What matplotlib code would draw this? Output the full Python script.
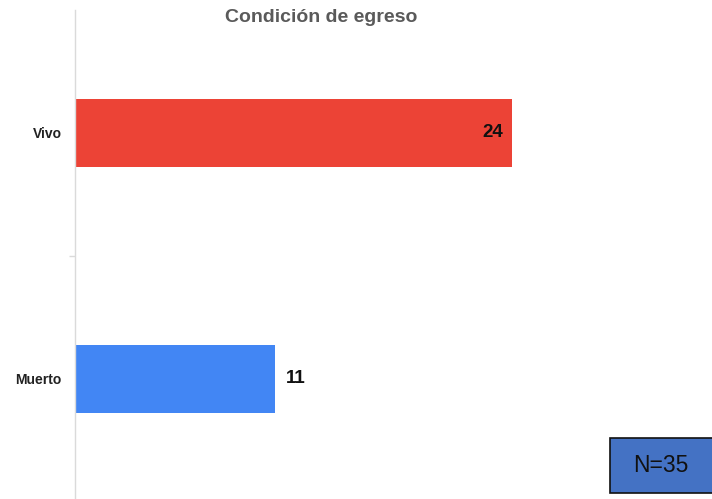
import matplotlib
matplotlib.use("Agg")
import matplotlib.pyplot as plt
from matplotlib.patches import Rectangle

categories = ["Vivo", "Muerto"]
values = [24, 11]
colors = ["#EC4336", "#4286F4"]
total_label = "N=35"
title = "Condición de egreso"

W, H = 712, 499
fig = plt.figure(figsize=(W / 100, H / 100), dpi=100)
# axes: left spine at x=75px, top at y=10px, bottom slightly below the canvas
ax = fig.add_axes([75 / W, 1 - 502 / H, (W - 75) / W, 492 / H])

ypos = list(range(len(categories)))
ax.barh(ypos, values, height=0.276, color=colors, edgecolor="none")
ax.set_xlim(0, (W - 75) / 18.22)
ax.set_ylim(len(categories) - 0.5, -0.5)

for sp in ["top", "right", "bottom"]:
    ax.spines[sp].set_visible(False)
ax.spines["left"].set_color("#dadada")
ax.spines["left"].set_linewidth(1.0)

ax.set_xticks([])
ax.set_yticks(ypos)
ax.set_yticklabels(categories, fontsize=10, fontweight="bold", color="#222222",
                   family="Liberation Sans")
ax.tick_params(axis="y", which="major", length=0, pad=9.5)
ax.set_yticks([0.5], minor=True)
ax.tick_params(axis="y", which="minor", length=4, color="#dadada", width=1)

for y, v in zip(ypos, values):
    if v > 15:
        ax.text(v - 0.5, y, str(v), ha="right", va="center", fontsize=13.5,
                fontweight="bold", color="#111111", family="Liberation Sans")
    else:
        ax.text(v + 0.55, y, str(v), ha="left", va="center", fontsize=13.5,
                fontweight="bold", color="#111111", family="Liberation Sans")

fig.text(321 / W, 1 - 18 / H, title, ha="center", va="center", fontsize=14,
         fontweight="bold", color="#5a5a5a", family="Liberation Sans")

# sample size box in the lower right corner
box = Rectangle((610 / W, 1 - 493 / H), 104 / W, 55 / H, transform=fig.transFigure,
                facecolor="#4472C4", edgecolor="#111111", linewidth=1.2)
fig.patches.append(box)
fig.text(661 / W, 1 - 465 / H, total_label, ha="center", va="center",
         fontsize=16.5, color="#111111", family="Liberation Sans")

fig.savefig("out.png", dpi=100)
